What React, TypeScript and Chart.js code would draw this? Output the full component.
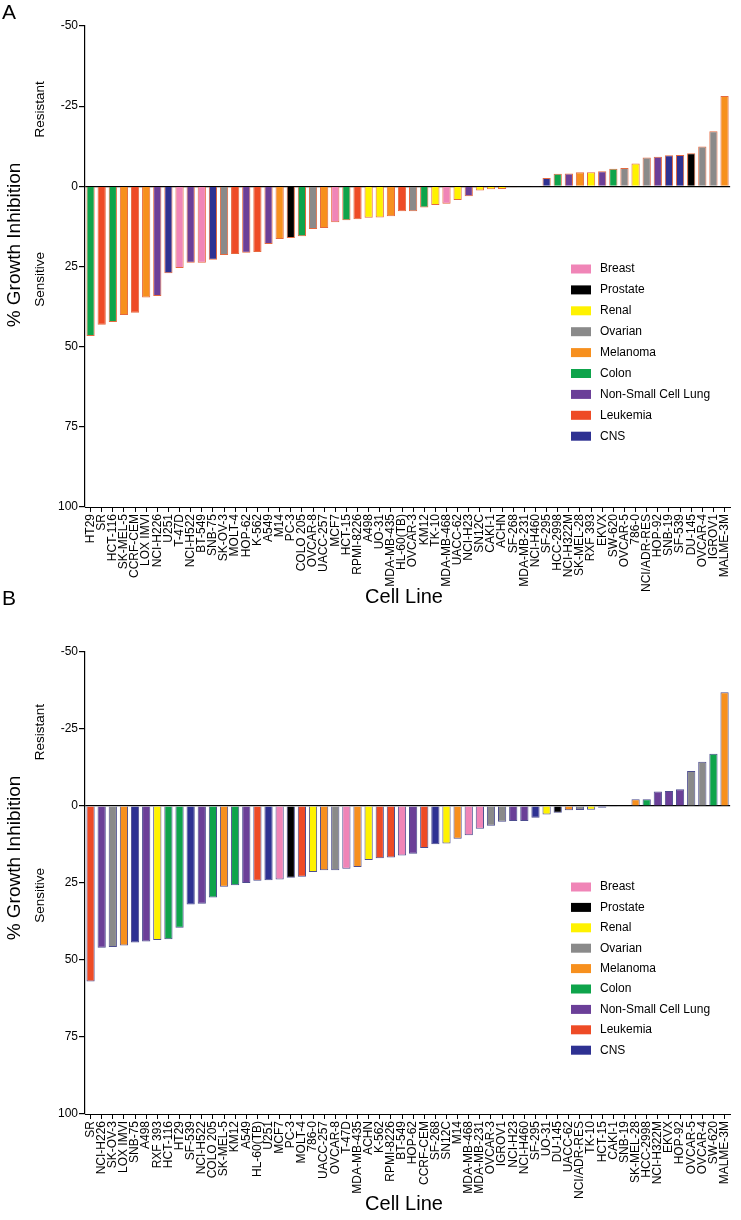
import React, { useEffect, useRef } from 'react';
import { Chart, registerables } from 'chart.js';

Chart.register(...registerables);

const FONT = '"Liberation Sans", Arial, Helvetica, sans-serif';
Chart.defaults.font.family = FONT;
Chart.defaults.color = '#000';

const tissueNames = ['Breast', 'Prostate', 'Renal', 'Ovarian', 'Melanoma', 'Colon', 'Non-Small Cell Lung', 'Leukemia', 'CNS'];
const tissueColors = ['#f085b7', '#000000', '#fff200', '#8a8a8a', '#f7901e', '#0ea44b', '#6b3f98', '#ee4b26', '#2e3192'];

const yTickValues = [-50, -25, 0, 25, 50, 75, 100];

// Panel A
const cellLinesA = [
  'HT29', 'SR', 'HCT-116', 'SK-MEL-5', 'CCRF-CEM', 'LOX IMVI', 'NCI-H226', 'U251', 'T-47D', 'NCI-H522',
  'BT-549', 'SNB-75', 'SK-OV-3', 'MOLT-4', 'HOP-62', 'K-562', 'A549', 'M14', 'PC-3', 'COLO 205',
  'OVCAR-8', 'UACC-257', 'MCF7', 'HCT-15', 'RPMI-8226', 'A498', 'UO-31', 'MDA-MB-435', 'HL-60(TB)', 'OVCAR-3',
  'KM12', 'TK-10', 'MDA-MB-468', 'UACC-62', 'NCI-H23', 'SN12C', 'CAKI-1', 'ACHN', 'SF-268', 'MDA-MB-231',
  'NCI-H460', 'SF-295', 'HCC-2998', 'NCI-H322M', 'SK-MEL-28', 'RXF 393', 'EKVX', 'SW-620', 'OVCAR-5', '786-0',
  'NCI/ADR-RES', 'HOP-92', 'SNB-19', 'SF-539', 'DU-145', 'OVCAR-4', 'IGROV1', 'MALME-3M'
];
const inhibitionA = [
  46.7, 43.2, 42.3, 40.1, 39.4, 34.7, 34.2, 27.1, 25.5, 23.8,
  23.8, 22.9, 21.4, 21.1, 20.7, 20.5, 18.0, 16.4, 16.1, 15.6,
  13.3, 13.0, 11.2, 10.6, 10.3, 9.8, 9.7, 9.3, 7.8, 7.8,
  6.6, 5.8, 5.4, 4.3, 3.1, 1.3, 0.9, 0.8, 0.3, 0.2,
  0.1, -2.6, -3.9, -4.0, -4.4, -4.4, -4.7, -5.5, -5.7, -7.1,
  -9.0, -9.2, -9.7, -9.8, -10.3, -12.4, -17.2, -28.2
];
const tissueA = [
  'Colon', 'Leukemia', 'Colon', 'Melanoma', 'Leukemia', 'Melanoma', 'Non-Small Cell Lung', 'CNS', 'Breast', 'Non-Small Cell Lung',
  'Breast', 'CNS', 'Ovarian', 'Leukemia', 'Non-Small Cell Lung', 'Leukemia', 'Non-Small Cell Lung', 'Melanoma', 'Prostate', 'Colon',
  'Ovarian', 'Melanoma', 'Breast', 'Colon', 'Leukemia', 'Renal', 'Renal', 'Melanoma', 'Leukemia', 'Ovarian',
  'Colon', 'Renal', 'Breast', 'Renal', 'Non-Small Cell Lung', 'Renal', 'Renal', 'Renal', 'CNS', 'Breast',
  'Non-Small Cell Lung', 'CNS', 'Colon', 'Non-Small Cell Lung', 'Melanoma', 'Renal', 'Non-Small Cell Lung', 'Colon', 'Ovarian', 'Renal',
  'Ovarian', 'Non-Small Cell Lung', 'CNS', 'CNS', 'Prostate', 'Ovarian', 'Ovarian', 'Melanoma'
];

// Panel B
const cellLinesB = [
  'SR', 'NCI-H226', 'SK-OV-3', 'LOX IMVI', 'SNB-75', 'A498', 'RXF 393', 'HCT-116', 'HT29', 'SF-539',
  'NCI-H522', 'COLO 205', 'SK-MEL-5', 'KM12', 'A549', 'HL-60(TB)', 'U251', 'MCF7', 'PC-3', 'MOLT-4',
  '786-0', 'UACC-257', 'OVCAR-8', 'T-47D', 'MDA-MB-435', 'ACHN', 'K-562', 'RPMI-8226', 'BT-549', 'HOP-62',
  'CCRF-CEM', 'SF-268', 'SN12C', 'M14', 'MDA-MB-468', 'MDA-MB-231', 'OVCAR-3', 'IGROV1', 'NCI-H23', 'NCI-H460',
  'SF-295', 'UO-31', 'DU-145', 'UACC-62', 'NCI/ADR-RES', 'TK-10', 'HCT-15', 'CAKI-1', 'SNB-19', 'SK-MEL-28',
  'HCC-2998', 'NCI-H322M', 'EKVX', 'HOP-92', 'OVCAR-5', 'OVCAR-4', 'SW-620', 'MALME-3M'
];
const inhibitionB = [
  57.0, 46.0, 45.8, 45.3, 44.3, 44.0, 43.5, 43.3, 39.5, 32.0,
  31.7, 29.7, 26.2, 25.7, 25.0, 24.3, 24.1, 23.9, 23.3, 23.0,
  21.4, 20.9, 20.9, 20.4, 19.8, 17.5, 17.0, 16.7, 16.1, 15.5,
  13.6, 12.4, 12.2, 10.6, 9.5, 7.4, 6.4, 5.1, 4.9, 4.9,
  3.8, 2.8, 2.2, 1.4, 1.3, 1.2, 0.6, 0.1, -0.2, -2.2,
  -2.2, -4.7, -4.9, -5.4, -11.4, -14.4, -17.0, -36.9
];
const tissueB = [
  'Leukemia', 'Non-Small Cell Lung', 'Ovarian', 'Melanoma', 'CNS', 'Non-Small Cell Lung', 'Renal', 'Colon', 'Colon', 'CNS',
  'Non-Small Cell Lung', 'Colon', 'Melanoma', 'Colon', 'Non-Small Cell Lung', 'Leukemia', 'CNS', 'Breast', 'Prostate', 'Leukemia',
  'Renal', 'Melanoma', 'Ovarian', 'Breast', 'Melanoma', 'Renal', 'Leukemia', 'Leukemia', 'Breast', 'Non-Small Cell Lung',
  'Leukemia', 'CNS', 'Renal', 'Melanoma', 'Breast', 'Breast', 'Ovarian', 'Ovarian', 'Non-Small Cell Lung', 'Non-Small Cell Lung',
  'CNS', 'Renal', 'Prostate', 'Melanoma', 'Ovarian', 'Renal', 'CNS', 'Renal', 'CNS', 'Melanoma',
  'Colon', 'Non-Small Cell Lung', 'Non-Small Cell Lung', 'Non-Small Cell Lung', 'Ovarian', 'Ovarian', 'Colon', 'Melanoma'
];

type PanelSpec = {
  letter: string;
  labels: string[];
  values: number[];
  tissues: string[];
  edge: string;
  canvasTop: number;
  canvasHeight: number;
  areaTop: number;
  areaBottom: number;
  titleY: number;
  legendTop: number;
  legendGap: number;
  xTitleY: number;
};

const W = 741;
const AREA_LEFT = 85;
const AREA_RIGHT = 737;

function colorFor(t: string) {
  return tissueColors[tissueNames.indexOf(t)];
}

function makeTextPlugin(p: PanelSpec) {
  return {
    id: 'panelText' + p.letter,
    afterDraw(chart: any) {
      const ctx = chart.ctx as CanvasRenderingContext2D;
      const ys = chart.scales.y;
      ctx.save();
      ctx.fillStyle = '#000';
      ctx.textBaseline = 'middle';
      ctx.textAlign = 'left';
      ctx.font = `21px ${FONT}`;
      ctx.fillText(p.letter, 2, 13);

      ctx.save();
      ctx.translate(15, p.titleY);
      ctx.rotate(-Math.PI / 2);
      ctx.textAlign = 'center';
      ctx.font = `19px ${FONT}`;
      ctx.fillText('% Growth Inhibition', 0, 0);
      ctx.restore();

      const side = (txt: string, v: number) => {
        ctx.save();
        ctx.translate(40, ys.getPixelForValue(v));
        ctx.rotate(-Math.PI / 2);
        ctx.textAlign = 'center';
        ctx.font = `13.5px ${FONT}`;
        ctx.fillText(txt, 0, 0);
        ctx.restore();
      };
      side('Resistant', -24);
      side('Sensitive', 29);

      tissueNames.forEach((name, i) => {
        const cy = p.legendTop + i * p.legendGap;
        ctx.fillStyle = tissueColors[i];
        ctx.fillRect(571, cy - 4.5, 20, 9);
        ctx.fillStyle = '#000';
        ctx.font = `12px ${FONT}`;
        ctx.textAlign = 'left';
        ctx.fillText(name, 600, cy);
      });

      ctx.font = `20px ${FONT}`;
      ctx.textAlign = 'center';
      ctx.fillText('Cell Line', 404, p.xTitleY);
      ctx.restore();
    }
  };
}

function Panel({ p }: { p: PanelSpec }) {
  const ref = useRef<HTMLCanvasElement | null>(null);
  useEffect(() => {
    const canvas = ref.current;
    if (!canvas) return;
    const chart = new Chart(canvas, {
      type: 'bar',
      data: {
        labels: p.labels,
        datasets: [{
          data: p.values,
          backgroundColor: p.tissues.map(colorFor),
          borderColor: p.edge,
          borderWidth: 1,
          barPercentage: 0.74,
          categoryPercentage: 1,
        }]
      },
      options: {
        animation: false,
        responsive: false,
        devicePixelRatio: 1,
        layout: { padding: { top: p.areaTop, right: W - AREA_RIGHT, left: 0, bottom: 0 } },
        plugins: { legend: { display: false }, tooltip: { enabled: false } },
        scales: {
          x: {
            type: 'category',
            afterFit: (s: any) => { s.height = p.canvasHeight - p.areaBottom; },
            grid: {
              offset: false,
              drawOnChartArea: false,
              drawTicks: true,
              tickLength: 5,
              tickColor: '#000',
              color: '#000',
            },
            border: { display: true, color: '#000', width: 1 },
            ticks: {
              autoSkip: false,
              minRotation: 90,
              maxRotation: 90,
              padding: 2,
              color: '#000',
              font: { size: 12, family: FONT },
            }
          },
          y: {
            type: 'linear',
            reverse: true,
            min: yTickValues[0],
            max: yTickValues[yTickValues.length - 1],
            afterFit: (s: any) => { s.width = AREA_LEFT; },
            afterBuildTicks: (s: any) => { s.ticks = yTickValues.map((v) => ({ value: v })); },
            grid: {
              drawOnChartArea: true,
              color: (c: any) => (c.tick && c.tick.value === 0 ? '#000' : 'rgba(0,0,0,0)'),
              tickColor: '#000',
              tickLength: 6,
              lineWidth: 1.2,
            },
            border: { display: true, color: '#000', width: 1.2 },
            ticks: {
              padding: 1,
              color: '#000',
              font: { size: 12, family: FONT },
              callback: (v: any) => String(v),
            }
          }
        }
      },
      plugins: [makeTextPlugin(p)]
    } as any);
    return () => chart.destroy();
  }, [p]);
  return (
    <canvas
      ref={ref}
      width={W}
      height={p.canvasHeight}
      style={{ position: 'absolute', left: 0, top: p.canvasTop, width: W, height: p.canvasHeight }}
    />
  );
}

const panelA: PanelSpec = {
  letter: 'A', labels: cellLinesA, values: inhibitionA, tissues: tissueA, edge: '#e5693f',
  canvasTop: 0, canvasHeight: 612, areaTop: 26, areaBottom: 507,
  titleY: 245, legendTop: 269, legendGap: 20.9, xTitleY: 597,
};

const panelB: PanelSpec = {
  letter: 'B', labels: cellLinesB, values: inhibitionB, tissues: tissueB, edge: '#4d4d8f',
  canvasTop: 586, canvasHeight: 634, areaTop: 66, areaBottom: 528,
  titleY: 272, legendTop: 301, legendGap: 20.4, xTitleY: 618,
};

export default function App() {
  return (
    <div style={{ position: 'absolute', left: 0, top: 0, width: W, height: 1220, background: '#fff' }}>
      <Panel p={panelA} />
      <Panel p={panelB} />
    </div>
  );
}
